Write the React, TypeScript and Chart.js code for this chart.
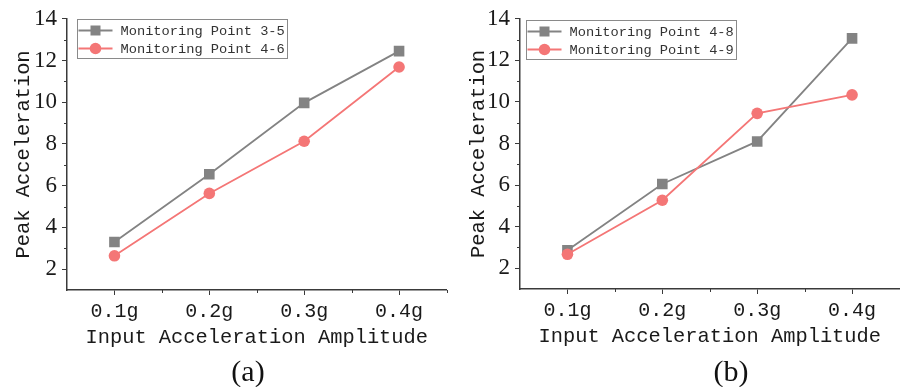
import React, { useEffect, useRef } from "react";
import { Chart, registerables } from "chart.js";

Chart.register(...registerables);

// ---------- data ----------
const CATEGORIES = ["0.1g", "0.2g", "0.3g", "0.4g"];

const A_LABELS = ["Monitoring Point 3-5", "Monitoring Point 4-6"];
const A_POINT_3_5 = [3.3, 6.55, 9.97, 12.45];
const A_POINT_4_6 = [2.64, 5.63, 8.13, 11.69];

const B_LABELS = ["Monitoring Point 4-8", "Monitoring Point 4-9"];
const B_POINT_4_8 = [2.86, 6.05, 8.1, 13.06];
const B_POINT_4_9 = [2.67, 5.27, 9.45, 10.34];

const Y_MIN = 1;
const Y_MAX = 14;
const Y_TICKS = [2, 4, 6, 8, 10, 12, 14];
const Y_MINOR_TICKS = [3, 5, 7, 9, 11, 13];
const X_MINOR_TICKS = [0.5, 1.5, 2.5, 3.5];

const X_TITLE = "Input Acceleration Amplitude";
const Y_TITLE = "Peak Acceleration";
const CAPTIONS = ["(a)", "(b)"];

// ---------- styles ----------
const GRAY = "#838383";
const RED = "#F47676";
const AXIS = "#3a3a3a";
const TEXT = "#1a1a1a";
const MONO = '"Liberation Mono", "DejaVu Sans Mono", monospace';
const SERIF = '"Liberation Serif", "DejaVu Serif", serif';

const decorPlugin = {
  id: "decor",
  afterDraw(chart: any, _args: any, opts: any) {
    const ctx = chart.ctx as CanvasRenderingContext2D;
    const xs = chart.scales.x;
    const ys = chart.scales.y;
    ctx.save();
    // minor ticks
    ctx.strokeStyle = AXIS;
    ctx.lineWidth = 1;
    ctx.beginPath();
    for (const v of Y_MINOR_TICKS) {
      const py = Math.round(ys.getPixelForValue(v)) + 0.5;
      ctx.moveTo(ys.right - 3, py);
      ctx.lineTo(ys.right, py);
    }
    for (const v of X_MINOR_TICKS) {
      const px = Math.round(xs.getPixelForValue(v)) + 0.5;
      ctx.moveTo(px, xs.top);
      ctx.lineTo(px, xs.top + 3);
    }
    ctx.stroke();

    // inset legend
    const ca = chart.chartArea;
    const L = opts.legend;
    const bx = Math.round(ca.left + L.x) + 0.5;
    const by = Math.round(ca.top + L.y) + 0.5;
    ctx.fillStyle = "#ffffff";
    ctx.fillRect(bx, by, L.w, L.h);
    ctx.strokeStyle = "#8a8a8a";
    ctx.lineWidth = 1;
    ctx.strokeRect(bx, by, L.w, L.h);
    chart.data.datasets.forEach((ds: any, i: number) => {
      const ry = by + L.rows[i];
      ctx.strokeStyle = ds.borderColor;
      ctx.lineWidth = ds.borderWidth;
      ctx.beginPath();
      ctx.moveTo(bx + L.line1, ry);
      ctx.lineTo(bx + L.line2, ry);
      ctx.stroke();
      ctx.fillStyle = ds.backgroundColor;
      const mx = bx + L.marker;
      if (ds.pointStyle === "rect") {
        ctx.fillRect(mx - 5, ry - 5, 10, 10);
      } else {
        ctx.beginPath();
        ctx.arc(mx, ry, 5.8, 0, Math.PI * 2);
        ctx.fill();
      }
      ctx.fillStyle = "#333333";
      ctx.font = `13.7px ${MONO}`;
      ctx.textBaseline = "middle";
      ctx.textAlign = "left";
      ctx.fillText(ds.label, bx + L.text, ry + 1);
    });
    ctx.restore();
  },
};

function makeConfig(
  labels: string[],
  gray: number[],
  red: number[],
  yWidth: number,
  padBottom: number,
  legendPos: { x: number; y: number }
): any {
  return {
    type: "line",
    data: {
      labels: CATEGORIES,
      datasets: [
        {
          label: labels[0],
          data: gray,
          borderColor: GRAY,
          backgroundColor: GRAY,
          borderWidth: 1.8,
          pointStyle: "rect",
          pointRadius: 7.5,
          pointBorderWidth: 0,
          order: 1,
        },
        {
          label: labels[1],
          data: red,
          borderColor: RED,
          backgroundColor: RED,
          borderWidth: 1.8,
          pointStyle: "circle",
          pointRadius: 5.8,
          pointBorderWidth: 0,
          order: 0,
        },
      ],
    },
    options: {
      responsive: false,
      animation: false,
      devicePixelRatio: 1,
      layout: { padding: { top: 16, left: 0, right: 0, bottom: padBottom } },
      plugins: {
        legend: { display: false },
        tooltip: { enabled: false },
        decor: {
          legend: {
            x: legendPos.x,
            y: legendPos.y,
            w: 210,
            h: 39,
            line1: 1,
            line2: 35,
            marker: 18,
            text: 43,
            rows: [11, 29],
          },
        },
      },
      scales: {
        x: {
          type: "category",
          offset: true,
          grid: {
            offset: false,
            drawOnChartArea: false,
            drawTicks: true,
            tickLength: 5,
            color: AXIS,
            lineWidth: 1,
          },
          border: { display: true, color: AXIS, width: 1.5 },
          ticks: {
            color: TEXT,
            font: { family: MONO, size: 20 },
            padding: 5,
            maxRotation: 0,
            autoSkip: false,
          },
          title: {
            display: true,
            text: X_TITLE,
            color: TEXT,
            font: { family: MONO, size: 20.4 },
            padding: 0,
          },
          afterFit: (s: any) => {
            s.height = 60;
          },
        },
        y: {
          type: "linear",
          min: Y_MIN,
          max: Y_MAX,
          afterBuildTicks: (s: any) => {
            s.ticks = Y_TICKS.map((v) => ({ value: v }));
          },
          grid: {
            drawOnChartArea: false,
            drawTicks: true,
            tickLength: 5,
            color: AXIS,
            lineWidth: 1,
          },
          border: { display: true, color: AXIS, width: 1.5 },
          ticks: {
            color: TEXT,
            font: { family: SERIF, size: 23 },
            padding: 5,
          },
          title: {
            display: true,
            text: Y_TITLE,
            color: TEXT,
            font: { family: MONO, size: 20.4 },
            padding: { top: 11, bottom: 0 },
          },
          afterFit: (s: any) => {
            s.width = yWidth;
          },
        },
      },
    },
    plugins: [decorPlugin],
  };
}

function Panel(props: {
  left: number;
  width: number;
  labels: string[];
  gray: number[];
  red: number[];
  yWidth: number;
  padBottom: number;
  legendPos: { x: number; y: number };
}) {
  const ref = useRef<HTMLCanvasElement | null>(null);
  useEffect(() => {
    if (!ref.current) return;
    const chart = new Chart(
      ref.current,
      makeConfig(props.labels, props.gray, props.red, props.yWidth, props.padBottom, props.legendPos)
    );
    return () => chart.destroy();
  }, []);
  return (
    <div style={{ position: "absolute", left: props.left, top: 0, width: props.width, height: 387 }}>
      <canvas ref={ref} width={props.width} height={387} style={{ width: props.width, height: 387, display: "block" }} />
    </div>
  );
}

export default function App() {
  const capStyle: React.CSSProperties = {
    position: "absolute",
    top: 356,
    transform: "translateX(-50%)",
    fontFamily: SERIF,
    fontSize: 30,
    lineHeight: "30px",
    color: "#111",
    whiteSpace: "nowrap",
  };
  return (
    <div
      style={{
        position: "absolute",
        left: 0,
        top: 0,
        width: 900,
        height: 387,
        overflow: "hidden",
        background: "#ffffff",
      }}
    >
      <Panel left={0} width={454} labels={A_LABELS} gray={A_POINT_3_5} red={A_POINT_4_6} yWidth={67} padBottom={37} legendPos={{ x: 10, y: 0 }} />
      <Panel left={455} width={452} labels={B_LABELS} gray={B_POINT_4_8} red={B_POINT_4_9} yWidth={65} padBottom={38} legendPos={{ x: 6, y: 1 }} />
      <div style={{ ...capStyle, left: 248 }}>{CAPTIONS[0]}</div>
      <div style={{ ...capStyle, left: 731 }}>{CAPTIONS[1]}</div>
    </div>
  );
}
